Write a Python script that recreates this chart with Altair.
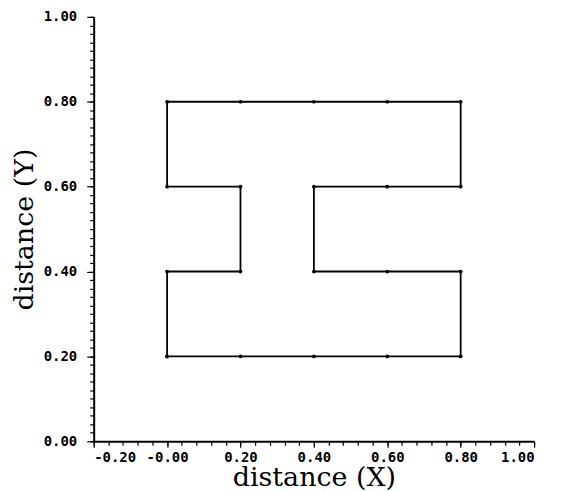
import altair as alt
import pandas as pd

# I-beam outline, traversed node by node
path_x = [0.0, 0.2, 0.4, 0.6, 0.8, 0.8, 0.6, 0.4, 0.4, 0.6, 0.8, 0.8, 0.6, 0.4, 0.2, 0.0, 0.0, 0.2, 0.2, 0.0, 0.0]
path_y = [0.2, 0.2, 0.2, 0.2, 0.2, 0.4, 0.4, 0.4, 0.6, 0.6, 0.6, 0.8, 0.8, 0.8, 0.8, 0.8, 0.6, 0.6, 0.4, 0.4, 0.2]

x_major = [-0.2, 0.0, 0.2, 0.4, 0.6, 0.8, 1.0]
y_major = [0.0, 0.2, 0.4, 0.6, 0.8, 1.0]
x_minor = [round(-0.2 + 0.04 * i, 2) for i in range(31)]
y_minor = [round(0.02 * i, 2) for i in range(51)]

df = pd.DataFrame({"x": path_x, "y": path_y, "order": list(range(len(path_x)))})

W, H = 442, 426
xscale = alt.Scale(domain=[-0.2, 1.0], nice=False, zero=False)
yscale = alt.Scale(domain=[0, 1], nice=False, zero=False)

label_expr_x = "datum.value == 0 ? '-0.00' : replace(format(datum.value, '.2f'), '\u2212', '-')"

line = alt.Chart(df).mark_line(color="black", strokeWidth=1.8).encode(
    x=alt.X(
        "x:Q",
        scale=xscale,
        axis=alt.Axis(
            orient="bottom", values=x_major, tickSize=6, labelPadding=3,
            labelExpr=label_expr_x, title="distance (X)",
            titleX=W / 2, titleY=44, titleBaseline="alphabetic", grid=False,
        ),
    ),
    y=alt.Y(
        "y:Q",
        scale=yscale,
        axis=alt.Axis(
            orient="left", values=y_major, tickSize=7, labelPadding=10,
            format=".2f", title="distance (Y)",
            titleX=-61, titleY=H / 2, titleAngle=270, titleBaseline="alphabetic",
            grid=False,
        ),
    ),
    order="order:O",
)

pts = alt.Chart(df).mark_circle(color="black", size=14, opacity=1).encode(
    x=alt.X(
        "x:Q",
        scale=xscale,
        axis=alt.Axis(orient="bottom", values=x_minor, tickSize=4, labels=False,
                      domain=False, title=None, grid=False),
    ),
    y=alt.Y(
        "y:Q",
        scale=yscale,
        axis=alt.Axis(orient="left", values=y_minor, tickSize=4, labels=False,
                      domain=False, title=None, grid=False),
    ),
)

chart = (
    alt.layer(line, pts)
    .resolve_axis(x="independent", y="independent")
    .properties(
        width=W, height=H, autosize="none",
        padding={"left": 86, "top": 8, "right": 20, "bottom": 49},
    )
    .configure_view(stroke=None)
    .configure_axis(
        domainColor="black", domainWidth=2, tickColor="black", tickWidth=1.2,
        labelColor="black", labelFont="DejaVu Sans Mono", labelFontSize=14,
        labelFontWeight="bold",
        titleColor="black", titleFont="DejaVu Serif", titleFontSize=27,
        titleFontWeight="normal",
    )
)

chart.save("out.html", embed_options={"renderer": "svg", "actions": False})
